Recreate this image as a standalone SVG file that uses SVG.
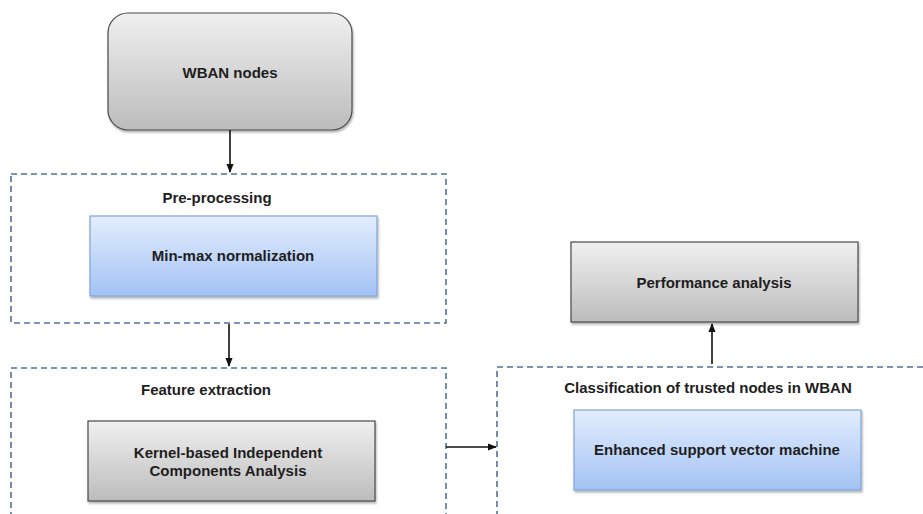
<svg xmlns="http://www.w3.org/2000/svg" width="923" height="514" viewBox="0 0 923 514">
<defs>
<linearGradient id="gray" x1="0" y1="0" x2="0" y2="1">
<stop offset="0" stop-color="#f0f0f0"/>
<stop offset="1" stop-color="#bcbcbc"/>
</linearGradient>
<linearGradient id="blue" x1="0" y1="0" x2="0" y2="1">
<stop offset="0" stop-color="#e3edfd"/>
<stop offset="1" stop-color="#a3c2f4"/>
</linearGradient>
<filter id="sh" x="-5%" y="-5%" width="115%" height="120%">
<feDropShadow dx="1" dy="2" stdDeviation="1.2" flood-color="#000" flood-opacity="0.3"/>
</filter>
<marker id="arr" viewBox="0 0 10 10" refX="9" refY="5" markerWidth="9" markerHeight="9" markerUnits="userSpaceOnUse" orient="auto">
<path d="M0,1 L10,5 L0,9 z" fill="#111"/>
</marker>
</defs>
<style>
.t{font-family:"Liberation Sans",Arial,sans-serif;font-weight:bold;font-size:15px;fill:#1e1e1e;text-anchor:middle}
.g{fill:url(#gray);stroke:#4a4a4a;stroke-width:1.2;filter:url(#sh)}
.b{fill:url(#blue);stroke:#7ea5d8;stroke-width:1.2;filter:url(#sh)}
.d{fill:none;stroke:#52709a;stroke-width:1.6;stroke-dasharray:6,4}
.c{stroke:#111;stroke-width:1.6;fill:none;marker-end:url(#arr)}
</style>
<rect width="923" height="514" fill="#fff"/>
<g id="wban">
<rect class="g" x="108" y="13" width="244" height="117" rx="20"/>
<text class="t" x="230" y="78">WBAN nodes</text>
</g>
<g id="preprocessing">
<rect class="d" x="11" y="174" width="435" height="149"/>
<text class="t" x="217" y="203">Pre-processing</text>
</g>
<g id="minmax">
<rect class="b" x="90" y="216" width="287" height="80"/>
<text class="t" x="233" y="261">Min-max normalization</text>
</g>
<g id="feature">
<rect class="d" x="11" y="368" width="435" height="160"/>
<text class="t" x="206" y="395">Feature extraction</text>
</g>
<g id="kica">
<rect class="b" x="88" y="421" width="287" height="80" style="fill:url(#gray);stroke:#4a4a4a"/>
<text class="t" x="228" y="458">Kernel-based Independent</text>
<text class="t" x="228" y="476">Components Analysis</text>
</g>
<g id="classification">
<rect class="d" x="497" y="367" width="440" height="160"/>
<text class="t" x="708" y="393">Classification of trusted nodes in WBAN</text>
</g>
<g id="esvm">
<rect class="b" x="574" y="410" width="287" height="80"/>
<text class="t" x="717" y="455">Enhanced support vector machine</text>
</g>
<g id="performance">
<rect class="g" x="571" y="242" width="287" height="80"/>
<text class="t" x="714" y="288">Performance analysis</text>
</g>
<g id="connectors">
<line class="c" x1="230" y1="130" x2="230" y2="172"/>
<line class="c" x1="229" y1="324" x2="229" y2="366"/>
<line class="c" x1="446" y1="447" x2="496" y2="447"/>
<line class="c" x1="712" y1="364" x2="712" y2="324"/>
</g>
</svg>
